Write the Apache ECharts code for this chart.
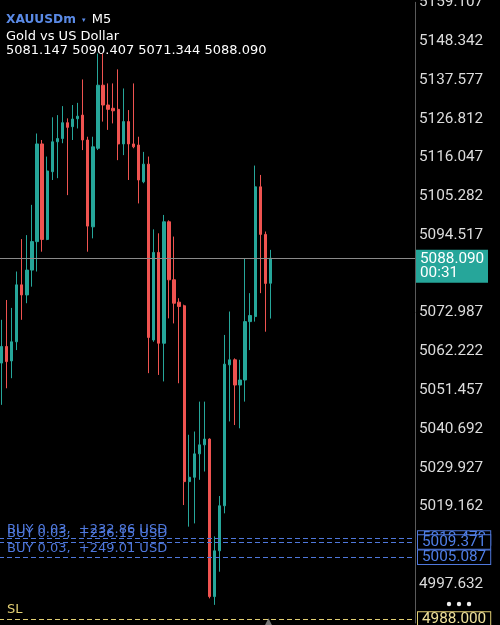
<!DOCTYPE html>
<html>
<head>
<meta charset="utf-8">
<script src="https://cdn.jsdelivr.net/npm/echarts@6/dist/echarts.min.js"></script>
<style>
  html, body { margin: 0; padding: 0; background: #000; }
  #chart { width: 500px; height: 625px; }
</style>
</head>
<body>
<div id="chart"></div>
<script>
// XAUUSDm M5 candles, oldest -> newest
const opens  = [5059.0, 5063.6, 5059.6, 5064.9, 5080.7, 5077.9, 5084.8, 5092.7, 5119.8, 5093.3,
                5112.1, 5120.4, 5121.3, 5125.7, 5124.6, 5126.8, 5127.8, 5120.9, 5096.8, 5118.6,
                5136.1, 5130.6, 5129.7, 5129.4, 5119.8, 5126.0, 5119.8, 5119.5, 5109.3, 5114.2,
                5065.4, 5089.7, 5064.5, 5098.2, 5082.1, 5075.9, 5074.9, 5026.1, 5027.3, 5033.8,
                5036.3, 5037.9, 4994.2, 5006.9, 5019.4, 5058.5, 5059.9, 5052.9, 5054.3, 5070.5,
                5071.9, 5107.9, 5094.7, 5081.147];
const closes = [5063.6, 5059.4, 5064.9, 5080.7, 5077.9, 5084.8, 5092.7, 5119.8, 5093.3, 5112.3,
                5120.4, 5121.3, 5125.7, 5124.4, 5126.7, 5127.5, 5120.9, 5097.0, 5119.0, 5136.1,
                5130.6, 5129.4, 5129.0, 5119.8, 5126.0, 5119.8, 5119.0, 5109.8, 5114.2, 5066.1,
                5089.7, 5064.5, 5098.2, 5082.1, 5075.6, 5074.7, 5026.1, 5027.3, 5033.8, 5036.3,
                5037.9, 4994.2, 5006.9, 5019.4, 5058.7, 5059.9, 5052.9, 5054.3, 5070.5, 5072.2,
                5107.9, 5094.7, 5081.1, 5088.090];
const lows   = [5047.4, 5052.0, 5054.8, 5062.6, 5071.0, 5075.6, 5080.2, 5084.4, 5089.9, 5093.1,
                5109.8, 5110.3, 5120.0, 5105.6, 5120.9, 5124.1, 5118.1, 5089.9, 5093.6, 5118.1,
                5126.0, 5123.7, 5125.5, 5115.3, 5116.7, 5109.8, 5118.6, 5103.3, 5108.9, 5056.2,
                5064.9, 5055.7, 5053.9, 5071.4, 5070.0, 5053.4, 5019.6, 5013.6, 5014.5, 5026.6,
                5028.9, 4993.7, 4991.9, 5001.1, 5017.3, 5042.8, 5041.8, 5040.9, 5048.3, 5062.6,
                5070.5, 5078.4, 5067.7, 5071.344];
const highs  = [5071.0, 5076.5, 5074.3, 5084.4, 5093.4, 5094.5, 5102.9, 5122.7, 5120.9, 5116.3,
                5127.2, 5127.8, 5130.3, 5126.9, 5130.6, 5131.2, 5137.7, 5121.8, 5121.8, 5144.9,
                5144.9, 5136.6, 5136.6, 5140.5, 5135.2, 5129.2, 5136.6, 5121.8, 5117.6, 5116.3,
                5096.1, 5095.0, 5100.1, 5098.6, 5094.1, 5077.0, 5075.2, 5039.1, 5040.0, 5048.3,
                5048.3, 5038.1, 5010.9, 5022.1, 5066.8, 5073.3, 5060.3, 5059.9, 5088.1, 5078.4,
                5113.8, 5111.2, 5095.5, 5090.407];
const emptySlots = 28;          // free space right of the last bar

// price scale ticks
const tickMin = 4986.867;
const tickMax = 5159.107;
const tickStep = 10.765;
const hiddenTicks = ['5083.752', '5008.397']; // covered by price boxes

// open positions / stop loss
const buyPrices  = [5010.470, 5009.371, 5005.087];
const buyLabels  = ['5010.470', '5009.371', '5005.087'];
const buyLots    = ['0.03', '0.03', '0.03'];
const buyProfits = ['+232.86', '+236.15', '+249.01'];
const slPrice = 4988.000;
const slLabel = '4988.000';
const timeLeft = '00:31';

const symbol = 'XAUUSDm';
const timeframe = 'M5';
const description = 'Gold vs US Dollar';

const UP = '#26a69a';
const DOWN = '#ef5350';
const BLUE = '#4f78dc';
const SLC = '#e2cf74';
const HEAD_FONT = 'DejaVu Sans';

const last = opens.length - 1;
const categories = opens.map((_, i) => 'b' + i);
for (let i = 0; i < emptySlots; i++) categories.push('e' + i);
const ohlc = opens.map((o, i) => [o, closes[i], lows[i], highs[i]]);

const chart = echarts.init(document.getElementById('chart'));

// price box on the right edge for a level
const boxLabel = (text, color, textColor) => ({
  position: 'end',
  distance: 3,
  opacity: 1,
  color: textColor,
  textBorderWidth: 0,
  backgroundColor: '#000',
  borderColor: color,
  borderWidth: 1,
  padding: [0, 4, 0, 4],
  formatter: '{v|' + text + '}',
  rich: { v: { color: textColor, textBorderWidth: 0, fontFamily: 'Roboto', fontSize: 15.3, lineHeight: 13.5 } }
});
const hiddenLine = { opacity: 0 };

const lines = [
  {
    yAxis: closes[last],
    lineStyle: { color: '#8a8a8a', type: 'solid', width: 1 },
    label: {
      position: 'end',
      distance: 1,
      formatter: '{g| }\n{p|' + closes[last].toFixed(3) + '}\n{t|' + timeLeft + '}',
      rich: {
        g: { lineHeight: 16, fontSize: 10 },
        p: { backgroundColor: UP, color: '#fff', fontFamily: 'Roboto', fontSize: 15.3, lineHeight: 16, width: 64, padding: [2, 4, 0, 4] },
        t: { backgroundColor: UP, color: '#fff', fontFamily: 'Roboto', fontSize: 15.3, lineHeight: 16, width: 64, padding: [0, 4, 2, 4] }
      }
    }
  }
];

buyPrices.forEach((price, i) => {
  lines.push({
    yAxis: price,
    lineStyle: { color: BLUE, type: [5, 3], width: 1.2 },
    label: {
      position: 'insideStartTop',
      distance: [8, 2],
      color: BLUE,
      fontFamily: HEAD_FONT,
      fontSize: 13,
      formatter: 'BUY ' + buyLots[i] + ',  ' + buyProfits[i] + ' USD'
    }
  });
});
buyPrices.forEach((price, i) => {
  lines.push({ yAxis: price, lineStyle: hiddenLine, label: boxLabel(buyLabels[i], BLUE, '#4f7ee6') });
});
lines.push({
  yAxis: slPrice,
  lineStyle: { color: SLC, type: [5, 3], width: 1.2 },
  label: {
    position: 'insideStartTop',
    distance: [8, 3],
    color: SLC,
    fontFamily: HEAD_FONT,
    fontSize: 13,
    formatter: 'SL'
  }
});
lines.push({ yAxis: slPrice, lineStyle: hiddenLine, label: boxLabel(slLabel, SLC, '#efe09a') });

const option = {
  backgroundColor: '#000',
  animation: false,
  title: {
    left: 6,
    top: 11,
    padding: 0,
    text: '{s|' + symbol + '} {a|▼} {m|' + timeframe + '}\n{d|' + description + '}\n{e|' +
      [opens[last], highs[last], lows[last], closes[last]].map(v => v.toFixed(3)).join(' ') + '}',
    textStyle: {
      fontWeight: 'normal',
      rich: {
        s: { color: '#5a8ae6', fontWeight: 'bold', fontSize: 12.2, fontFamily: HEAD_FONT, lineHeight: 18 },
        a: { color: '#5a8ae6', fontSize: 6, lineHeight: 18 },
        m: { color: '#fff', fontWeight: 'normal', fontSize: 13, fontFamily: HEAD_FONT, lineHeight: 18 },
        d: { color: '#fff', fontWeight: 'normal', fontSize: 13, fontFamily: HEAD_FONT, lineHeight: 16 },
        e: { color: '#fff', fontWeight: 'normal', fontSize: 13, fontFamily: HEAD_FONT, lineHeight: 12 }
      }
    }
  },
  grid: { left: -1, right: 85, top: 2.3, bottom: 2, outerBoundsMode: 'none' },
  xAxis: {
    type: 'category',
    data: categories,
    show: false
  },
  yAxis: {
    type: 'value',
    position: 'right',
    scale: true,
    min: tickMin,
    max: tickMax,
    interval: tickStep,
    splitLine: { show: false },
    axisTick: { show: false },
    axisLine: { show: true, lineStyle: { color: '#5a5a5a', width: 1 } },
    axisLabel: {
      color: '#dcdcdc',
      fontFamily: 'Roboto',
      fontSize: 15.3,
      margin: 4,
      showMinLabel: false,
      formatter: v => {
        const s = v.toFixed(3);
        return hiddenTicks.includes(s) ? '' : s;
      }
    }
  },
  series: [{
    type: 'candlestick',
    data: ohlc,
    barWidth: 2.8,
    itemStyle: {
      color: UP,
      color0: DOWN,
      borderColor: UP,
      borderColor0: DOWN,
      borderWidth: 1
    },
    markLine: {
      silent: true,
      symbol: ['none', 'none'],
      animation: false,
      data: lines
    }
  }],
  graphic: [
    { type: 'circle', shape: { cx: 449, cy: 604, r: 2.2 }, style: { fill: '#eee' } },
    { type: 'circle', shape: { cx: 459, cy: 604, r: 2.2 }, style: { fill: '#eee' } },
    { type: 'circle', shape: { cx: 469, cy: 604, r: 2.2 }, style: { fill: '#eee' } },
    { type: 'text', left: 265, top: 617, style: { text: '▲', fill: '#777', font: '9px DejaVu Sans' } }
  ]
};

chart.setOption(option);
</script>
</body>
</html>
